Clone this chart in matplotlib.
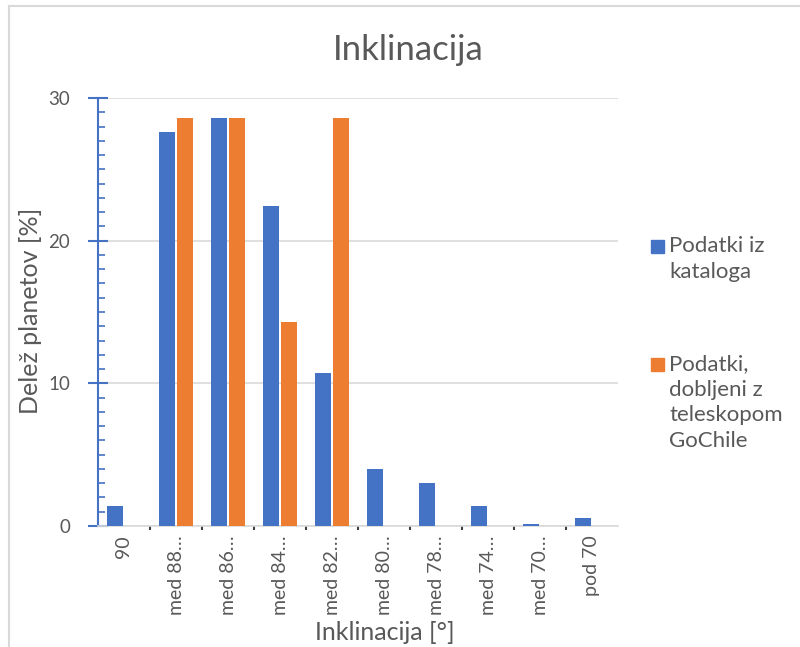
import matplotlib
matplotlib.use("Agg")
import matplotlib.pyplot as plt
import numpy as np
from matplotlib.patches import Rectangle
from matplotlib.lines import Line2D
from matplotlib.ticker import MultipleLocator

categories = ["90", "med 88…", "med 86…", "med 84…", "med 82…", "med 80…",
              "med 78…", "med 74…", "med 70…", "pod 70"]
catalog = [1.4, 27.6, 28.6, 22.4, 10.7, 4.0, 3.0, 1.4, 0.15, 0.55]
gochile = [0, 28.57, 28.57, 14.29, 28.57, 0, 0, 0, 0, 0]
series_names = ["Podatki iz\nkataloga", "Podatki,\ndobljeni z\nteleskopom\nGoChile"]

BLUE = "#4472C4"
ORANGE = "#ED7D31"
GRAY = "#595959"
FONT = ["Lato", "DejaVu Sans"]

plt.rcParams['font.family'] = FONT

fig = plt.figure(figsize=(8.0, 6.47), dpi=100)
ax = fig.add_axes([98/800, 1-526/647, 520/800, 428/647])

x = np.arange(len(categories))
w = 0.31
ax.bar(x - w/2 - 0.01, catalog, width=w, color=BLUE, zorder=3)
ax.bar(x + w/2 + 0.01, gochile, width=w, color=ORANGE, zorder=3)

ax.set_xlim(-0.5, len(categories) - 0.5)
ax.set_ylim(0, 30)
ax.yaxis.set_major_locator(MultipleLocator(10))
ax.yaxis.set_minor_locator(MultipleLocator(1))
ax.grid(axis='y', color='#D9D9D9', linewidth=1.2, zorder=0)

for s in ['top', 'right']:
    ax.spines[s].set_visible(False)
ax.spines['left'].set_color(BLUE)
ax.spines['left'].set_linewidth(1.5)
ax.spines['bottom'].set_color('#D9D9D9')
ax.spines['bottom'].set_linewidth(1.2)

ax.tick_params(axis='y', which='major', direction='inout', length=14, width=1.5,
               color=BLUE, labelsize=13.5, labelcolor=GRAY, pad=13)
ax.tick_params(axis='y', which='minor', direction='in', length=5, width=1.2, color=BLUE)

ax.set_xticks(x)
ax.set_xticklabels(categories, rotation=90, fontsize=14, color=GRAY)
ax.set_xticks(x[:-1] + 0.5, minor=True)
ax.tick_params(axis='x', which='major', length=0, pad=7)
ax.tick_params(axis='x', which='minor', length=3, width=1.5, color='#404040', direction='out')

fig.text(31/800, 1-311/647, "Delež planetov [%]", fontsize=18, color=GRAY,
         rotation=90, ha='center', va='center')
fig.text(385/800, 1-633/647, "Inklinacija [°]", fontsize=18, color=GRAY,
         ha='center', va='center')
fig.text(408/800, 1-50/647, "Inklinacija", fontsize=25, color=GRAY, ha='center', va='center')

# legend drawn as handles + text, first line aligned with handle
leg_colors = [BLUE, ORANGE]
leg_tops = [236, 354]
for name, col, top in zip(series_names, leg_colors, leg_tops):
    fig.patches.append(Rectangle((651/800, 1-(top+17)/647), 13/800, 13/647,
                                 transform=fig.transFigure, color=col))
    fig.text(669/800, 1-top/647, name, fontsize=16, color=GRAY, ha='left', va='top',
             linespacing=1.35)

# chart-area border (top and left edges visible)
fig.lines.append(Line2D([8.5/800, 8.5/800], [0, 1-5.5/647], transform=fig.transFigure,
                        color='#D9D9D9', linewidth=1.5))
fig.lines.append(Line2D([8.5/800, 1], [1-5.5/647, 1-5.5/647], transform=fig.transFigure,
                        color='#D9D9D9', linewidth=1.5))

fig.savefig("out.png", dpi=100)
